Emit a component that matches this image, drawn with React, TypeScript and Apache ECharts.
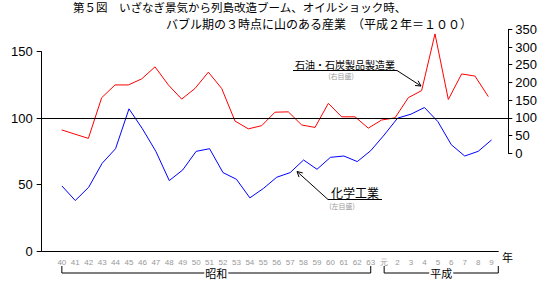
import React, { useEffect, useRef } from "react";
import * as echarts from "echarts";

const categories = ["", "40", "41", "42", "43", "44", "45", "46", "47", "48", "49", "50", "51", "52", "53", "54", "55", "56", "57", "58", "59", "60", "61", "62", "63", "元", "2", "3", "4", "5", "6", "7", "8", "9"];
const chemical = [null, 49, 38, 48, 66, 77, 107, 92, 75, 53, 61, 75, 77, 59, 54, 40, 47, 55.5, 59, 68.5, 61.5, 70.5, 71.5, 67.3, 75.5, 87.3, 100, 103, 108, 97.4, 80, 71.5, 75, 83.6];
const petroleum = [null, 66, 54, 42, 157, 193, 193, 210, 244, 193, 153, 183, 229, 183, 91, 69, 78, 116, 117, 80, 73, 141, 103, 103, 71, 94, 100, 157, 177, 337, 152, 224, 218, 160];
const leftTicks = { min: 0, max: 150, interval: 50 };
const rightTicks = { min: 0, max: 350, interval: 50 };
const baseValue = 100;
const title1 = "第５図　いざなぎ景気から列島改造ブーム、オイルショック時、";
const title2 = "バブル期の３時点に山のある産業　（平成２年＝１００）";

const JP = '"Noto Sans CJK JP", sans-serif';
const NUM = '"Liberation Sans Narrow", "Liberation Sans", sans-serif';

function arrow(tx: number, ty: number, fx: number, fy: number, color: string) {
  const dx = tx - fx, dy = ty - fy;
  const L = Math.hypot(dx, dy);
  const ux = dx / L, uy = dy / L;
  const a = (28 * Math.PI) / 180, len = 6;
  const w = (s: number) => {
    const c = Math.cos(s * a), sn = Math.sin(s * a);
    const rx = ux * c - uy * sn, ry = ux * sn + uy * c;
    return [tx - rx * len, ty - ry * len];
  };
  return [
    { type: "line", shape: { x1: fx, y1: fy, x2: tx, y2: ty }, style: { stroke: color, lineWidth: 1 } },
    { type: "polyline", shape: { points: [w(1), [tx, ty], w(-1)] }, style: { stroke: color, lineWidth: 1, fill: null } },
  ];
}

export default function App() {
  const ref = useRef<HTMLDivElement>(null);
  useEffect(() => {
    const chart = echarts.init(ref.current!, undefined, { renderer: "svg" });
    const cats2 = [...categories, ""];
    chart.setOption({
      animation: false,
      backgroundColor: "#fff",
      grid: [
        { left: 41.7, right: 41.7, top: 51.7, bottom: 37 },
        { left: 41.7, right: 29, top: 29.3, bottom: 134.7 },
      ],
      xAxis: [
        {
          type: "category",
          gridIndex: 0,
          data: categories,
          boundaryGap: true,
          axisLine: { lineStyle: { color: "#000", width: 1 } },
          axisTick: { interval: 0, length: 4, lineStyle: { color: "#000" } },
          axisLabel: { interval: 0, color: "#999", fontSize: 8, fontFamily: NUM, margin: 7 },
          splitLine: { show: false },
        },
        {
          type: "category",
          gridIndex: 1,
          data: cats2,
          boundaryGap: true,
          show: false,
        },
      ],
      yAxis: [
        {
          type: "value",
          gridIndex: 0,
          ...leftTicks,
          axisLine: { show: true, lineStyle: { color: "#000", width: 1 } },
          axisTick: { show: true, length: 5, lineStyle: { color: "#000" } },
          axisLabel: { color: "#000", fontSize: 13, fontFamily: NUM, margin: 9 },
          splitLine: { show: false },
        },
        {
          type: "value",
          gridIndex: 1,
          position: "right",
          ...rightTicks,
          axisLine: { show: true, lineStyle: { color: "#000", width: 1 } },
          axisTick: { show: true, length: 4, lineStyle: { color: "#000" } },
          axisLabel: { color: "#000", fontSize: 13, fontFamily: NUM, margin: 7 },
          splitLine: { show: false },
        },
      ],
      series: [
        {
          name: "化学工業",
          type: "line",
          xAxisIndex: 0,
          yAxisIndex: 0,
          data: chemical,
          showSymbol: false,
          symbol: "none",
          lineStyle: { color: "#0000ff", width: 1 },
          itemStyle: { color: "#0000ff" },
        },
        {
          name: "石油・石炭製品製造業",
          type: "line",
          xAxisIndex: 1,
          yAxisIndex: 1,
          data: [...petroleum, null],
          showSymbol: false,
          symbol: "none",
          lineStyle: { color: "#ff0000", width: 1 },
          itemStyle: { color: "#ff0000" },
          markLine: {
            silent: true,
            symbol: "none",
            label: { show: false },
            lineStyle: { color: "#000", width: 1, type: "solid" },
            data: [{ yAxis: baseValue }],
          },
        },
      ],
    });

    const px = (i: number) => (chart.convertToPixel({ xAxisIndex: 0, yAxisIndex: 0 }, [i, 0]) as number[])[0];
    const xS0 = px(1);
    const xS1 = px(24);
    const xH0 = px(25);
    const xH1 = px(33) + 6.7;
    const yTop = 266, yLine = 273;
    const bracket = (a: number, b: number, label: string) => [
      { type: "polyline", shape: { points: [[a, yTop], [a, yLine], [b, yLine], [b, yTop]] }, style: { stroke: "#000", lineWidth: 1, fill: null } },
      {
        type: "text",
        x: (a + b) / 2,
        y: yLine,
        z: 10,
        style: { text: label, fontSize: 11, fontFamily: JP, fill: "#000", align: "center", verticalAlign: "middle", backgroundColor: "#fff", padding: [0, 1] },
      },
    ];

    chart.setOption({
      graphic: [
        { type: "text", x: 73, y: 7, style: { text: title1, fontSize: 11.5, fontFamily: JP, fill: "#000", verticalAlign: "middle" } },
        { type: "text", x: 166, y: 23, style: { text: title2, fontSize: 12, fontFamily: JP, fill: "#000", verticalAlign: "middle" } },
        { type: "text", x: 295, y: 64, style: { text: "石油・石炭製品製造業", fontSize: 10, fontFamily: JP, fill: "#000", verticalAlign: "middle" } },
        { type: "line", shape: { x1: 293, y1: 70.5, x2: 397, y2: 70.5 }, style: { stroke: "#000", lineWidth: 1 } },
        { type: "text", x: 341, y: 76, style: { text: "(右目盛)", fontSize: 7, fontFamily: JP, fill: "#999", align: "center", verticalAlign: "middle" } },
        ...arrow(421, 86, 397, 70.5, "#000"),
        { type: "text", x: 331, y: 192.5, style: { text: "化学工業", fontSize: 12, fontFamily: JP, fill: "#000", verticalAlign: "middle" } },
        { type: "line", shape: { x1: 328, y1: 199.5, x2: 382, y2: 199.5 }, style: { stroke: "#000", lineWidth: 1 } },
        { type: "text", x: 342, y: 205.5, style: { text: "(左目盛)", fontSize: 7, fontFamily: JP, fill: "#999", align: "center", verticalAlign: "middle" } },
        ...arrow(297, 171.5, 328, 199.5, "#000"),
        ...bracket(xS0, xS1, "昭和"),
        ...bracket(xH0, xH1, "平成"),
        { type: "text", x: 502, y: 257, style: { text: "年", fontSize: 11, fontFamily: JP, fill: "#000", verticalAlign: "middle" } },
      ],
    });
    return () => chart.dispose();
  }, []);
  return <div ref={ref} style={{ position: "absolute", left: 0, top: 0, width: 540, height: 288 }} />;
}
